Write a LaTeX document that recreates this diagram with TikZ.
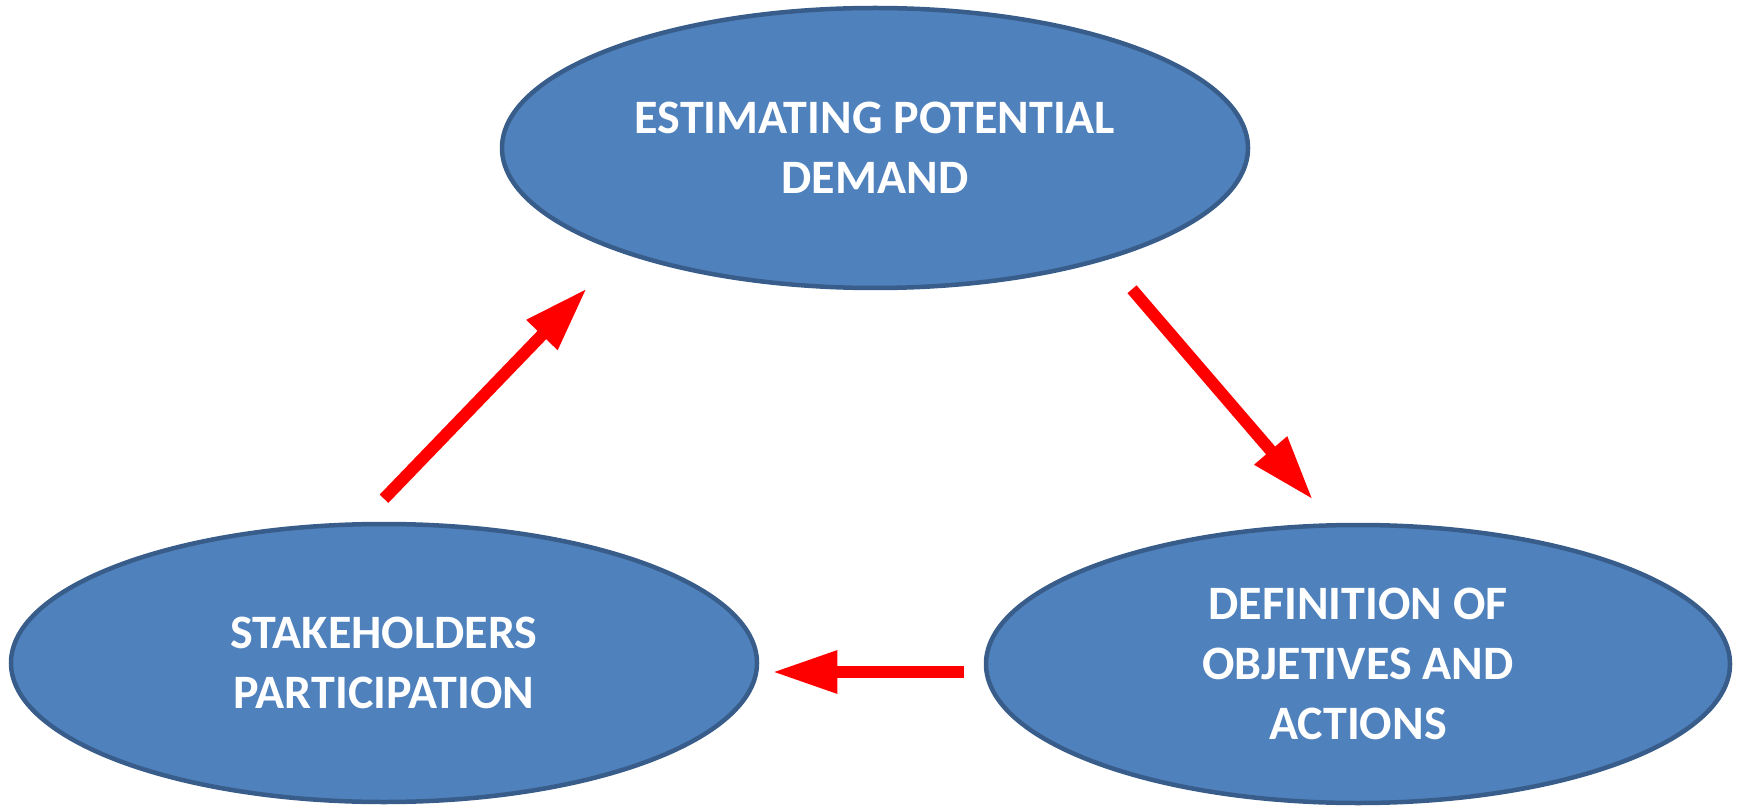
\documentclass[tikz,border=0pt]{standalone}
\usepackage{fontspec}
\setmainfont{Carlito}
\usetikzlibrary{shapes.geometric,arrows.meta}
\definecolor{ellfill}{HTML}{4F81BD}
\definecolor{elldraw}{HTML}{385D8A}
\definecolor{arrred}{HTML}{FF0000}
\begin{document}
\begin{tikzpicture}[x=1pt,y=1pt,
  bubble/.style={ellipse, fill=ellfill, draw=elldraw, line width=4.5pt, inner sep=0pt,
    text=white, font=\fontsize{48}{60}\selectfont\bfseries, align=center},
  flow/.style={draw=arrred, line width=12pt, -{Triangle[width=40pt,length=65pt]}, color=arrred}]
\useasboundingbox (0,0) rectangle (1739,807);
\node[bubble, minimum width=746pt, minimum height=280pt] (top) at (875,659) {ESTIMATING POTENTIAL\\DEMAND};
\node[bubble, minimum width=746pt, minimum height=278pt] (sp) at (384,144) {STAKEHOLDERS\\PARTICIPATION};
\node[bubble, minimum width=744pt, minimum height=278pt] (br) at (1358,143) {DEFINITION OF\\OBJETIVES AND\\ACTIONS};
\draw[flow] ([yshift=23pt]sp.north) -- ([xshift=-288pt,yshift=2pt]top.south);
\draw[flow] ([xshift=257pt,yshift=1pt]top.south) -- ([xshift=-45pt,yshift=23pt]br.north);
\draw[flow] ([xshift=-20pt,yshift=-8pt]br.west) -- ([xshift=13pt,yshift=-9pt]sp.east);
\end{tikzpicture}
\end{document}
